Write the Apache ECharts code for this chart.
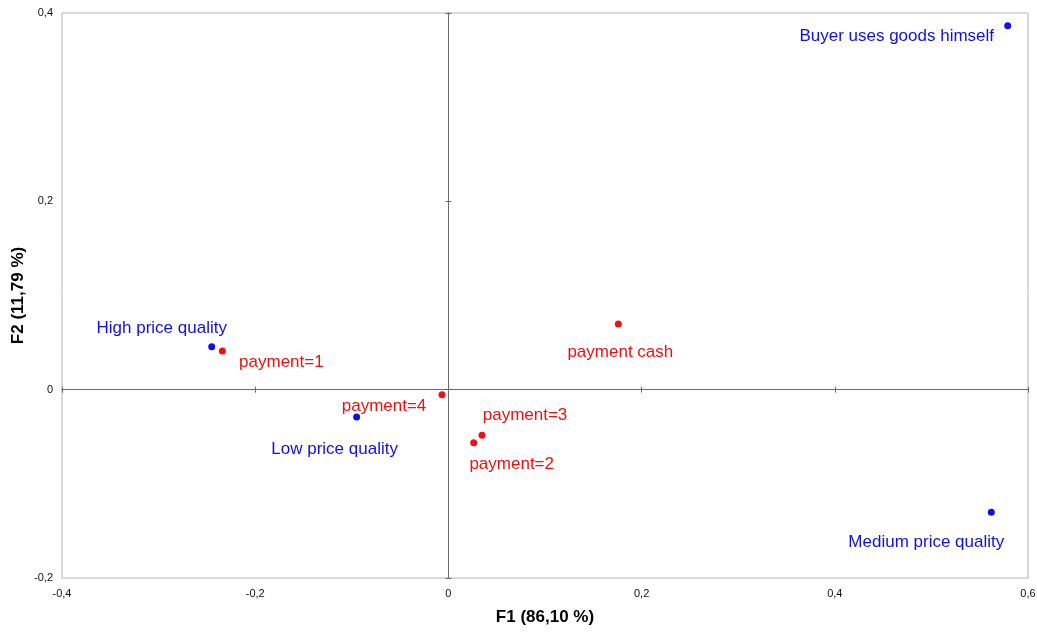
<!DOCTYPE html>
<html>
<head>
<meta charset="utf-8">
<script src="https://cdn.jsdelivr.net/npm/echarts@6/dist/echarts.min.js"></script>
<style>
html,body{margin:0;padding:0;background:#fff;}
#chart{width:1037px;height:632px;}
</style>
</head>
<body>
<div id="chart"></div>
<script>
// ---- data ----
const blueNames = ["Buyer uses goods himself", "High price quality", "Low price quality", "Medium price quality"];
const blueX = [0.579, -0.245, -0.095, 0.562];
const blueY = [0.3865, 0.0457, -0.029, -0.1303];

const redNames = ["payment=1", "payment=4", "payment=3", "payment=2", "payment cash"];
const redX = [-0.234, -0.0066, 0.0348, 0.0262, 0.1759];
const redY = [0.0411, -0.0053, -0.0485, -0.0563, 0.0698];

const xTitle = "F1 (86,10 %)";
const yTitle = "F2 (11,79 %)";
const xMin = -0.4, xMax = 0.6, yMin = -0.2, yMax = 0.4, step = 0.2;

// ---- styling (label placement relative to point, px) ----
const labelOffsets = {
  "Buyer uses goods himself": [-111, 11],
  "High price quality": [-50, -18],
  "Low price quality": [-22, 32],
  "Medium price quality": [-65, 30],
  "payment=1": [59, 11],
  "payment=4": [-58, 12],
  "payment=3": [43, -20],
  "payment=2": [38, 22],
  "payment cash": [2, 28]
};

const BLUE = '#1010e8', RED = '#f01010';
const FONT = 'Liberation Sans, Arial, sans-serif';

function fmt(v) {
  if (Math.abs(v) < 1e-9) return '0';
  return v.toFixed(1).replace('.', ',');
}

function buildData(names, xs, ys) {
  return names.map((n, i) => ({
    name: n,
    value: [xs[i], ys[i]],
    label: { offset: labelOffsets[n] }
  }));
}

const gridPos = { left: 62, top: 13, right: 9, bottom: 54, containLabel: false, outerBoundsMode: 'none' };

const zeroLine = { onZero: true, lineStyle: { color: '#6a6a6a', width: 1 } };
function zeroAxis(extra, min, max) {
  return Object.assign({
    type: 'value', min: min, max: max, interval: step,
    gridIndex: 0,
    axisLine: zeroLine,
    axisTick: { show: true, length: 3, lineStyle: { color: '#6a6a6a' } },
    axisLabel: { show: false },
    splitLine: { show: false }
  }, extra);
}

const option = {
  animation: false,
  textStyle: { fontFamily: FONT },
  grid: [
    Object.assign({ show: false }, gridPos),
    Object.assign({ show: true, borderColor: '#b4b4b4', borderWidth: 1, backgroundColor: 'transparent' }, gridPos)
  ],
  xAxis: [
    zeroAxis({ position: 'bottom' }, xMin, xMax),
    zeroAxis({ position: 'top' }, xMin, xMax),
    {
      type: 'value', gridIndex: 1, min: xMin, max: xMax, interval: step,
      position: 'bottom',
      axisLine: { show: false, onZero: false },
      axisTick: { show: false },
      splitLine: { show: false },
      axisLabel: { formatter: fmt, fontSize: 11, color: '#111', margin: 10, fontFamily: FONT },
      name: xTitle, nameLocation: 'middle', nameGap: 31, nameMoveOverlap: false,
      nameTextStyle: { fontSize: 17, fontWeight: 'bold', color: '#000', fontFamily: FONT }
    }
  ],
  yAxis: [
    zeroAxis({ position: 'left' }, yMin, yMax),
    zeroAxis({ position: 'right' }, yMin, yMax),
    {
      type: 'value', gridIndex: 1, min: yMin, max: yMax, interval: step,
      position: 'left',
      axisLine: { show: false, onZero: false },
      axisTick: { show: false },
      splitLine: { show: false },
      axisLabel: { formatter: fmt, fontSize: 11, color: '#111', margin: 9, fontFamily: FONT },
      name: yTitle, nameLocation: 'middle', nameGap: 35, nameRotate: 90, nameMoveOverlap: false,
      nameTextStyle: { fontSize: 17, fontWeight: 'bold', color: '#000', fontFamily: FONT }
    }
  ],
  series: [
    {
      type: 'scatter', xAxisIndex: 0, yAxisIndex: 0,
      symbolSize: 7,
      itemStyle: { color: BLUE, opacity: 1 },
      label: { show: true, position: 'inside', formatter: '{b}', color: BLUE, fontSize: 17, fontFamily: FONT },
      data: buildData(blueNames, blueX, blueY)
    },
    {
      type: 'scatter', xAxisIndex: 0, yAxisIndex: 0,
      symbolSize: 7,
      itemStyle: { color: RED, opacity: 1 },
      label: { show: true, position: 'inside', formatter: '{b}', color: RED, fontSize: 17, fontFamily: FONT },
      data: buildData(redNames, redX, redY)
    }
  ]
};

const chart = echarts.init(document.getElementById('chart'), null, { renderer: 'canvas' });
chart.setOption(option);
</script>
</body>
</html>
